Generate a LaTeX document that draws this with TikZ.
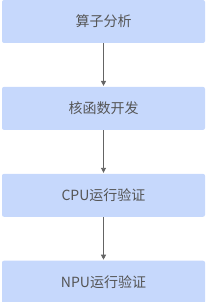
\documentclass[tikz,border=0pt]{standalone}
\usepackage{fontspec}
\newfontfamily\cjk{Noto Sans CJK SC}
\usepackage{xcolor}
\usetikzlibrary{arrows.meta, positioning}
\definecolor{stepblue}{RGB}{198,216,252}
\definecolor{textgray}{RGB}{85,85,85}
\definecolor{linegray}{RGB}{100,100,100}

\begin{document}
\begin{tikzpicture}[
  >={Triangle[length=5pt, width=5pt]},
  every node/.style={font=\cjk\fontsize{14pt}{16pt}\selectfont},
  stage/.style={fill=stepblue, rounded corners=2pt, text=textgray,
                minimum width=203pt, minimum height=43pt, inner sep=0pt},
  flow/.style={->, linegray, line width=0.9pt, shorten >=0.8pt},
  node distance=43.5pt
]
\useasboundingbox (0,0) rectangle (206pt,-302pt);
\node[stage] (op) at (103.5pt,-21.5pt) {算子分析};
\node[stage, below=of op] (kernel) {核函数开发};
\node[stage, below=of kernel] (cpu) {CPU运行验证};
\node[stage, below=of cpu] (npu) {NPU运行验证};
\draw[flow] (op) -- (kernel);
\draw[flow] (kernel) -- (cpu);
\draw[flow] (cpu) -- (npu);
\end{tikzpicture}
\end{document}
